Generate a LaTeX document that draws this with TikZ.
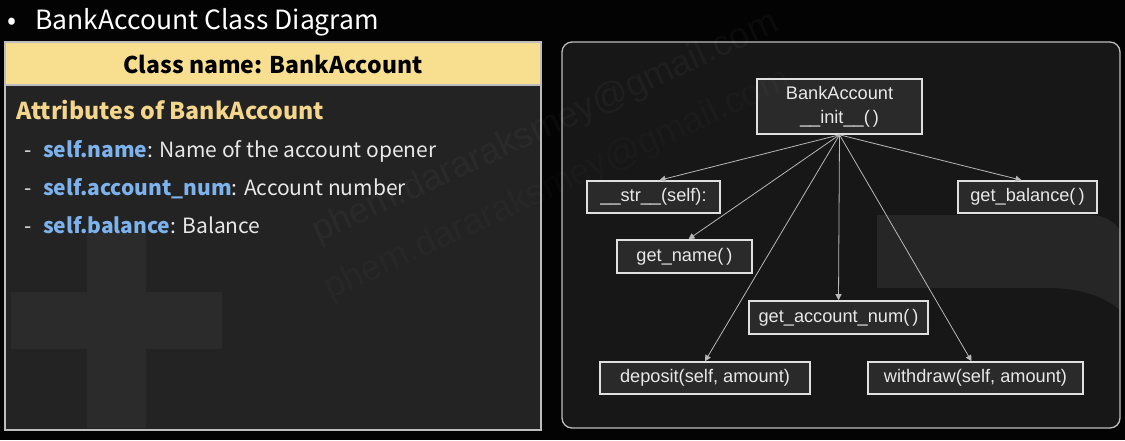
\documentclass[tikz,border=0pt]{standalone}
\usepackage{fontspec}
\newfontfamily\notosans{Noto Sans CJK KR}
\newfontfamily\arialf{Liberation Sans}
\usetikzlibrary{arrows.meta,calc}
\definecolor{bgblack}{HTML}{030303}
\definecolor{headyellow}{HTML}{F8DF90}
\definecolor{bodygray}{HTML}{232323}
\definecolor{crossgray}{HTML}{2B2B2B}
\definecolor{attryellow}{HTML}{F3D58B}
\definecolor{attrblue}{HTML}{7DB2EC}
\definecolor{txtwhite}{HTML}{E8E8E8}
\definecolor{panelborder}{HTML}{BDBDBD}
\definecolor{rpanel}{HTML}{171717}
\definecolor{bshape}{HTML}{262626}
\definecolor{boxfill}{HTML}{2A2A2A}
\definecolor{boxborder}{HTML}{E0E0E0}
\definecolor{edgegray}{HTML}{B8B8B8}
\tikzset{
  leftline/.style={anchor=base west, text=txtwhite, inner sep=0pt, font=\notosans\fontsize{21}{25}\selectfont},
  method/.style={draw=boxborder, line width=1.6pt, fill=boxfill, text=txtwhite, inner sep=0pt,
    font=\arialf\fontsize{18.2}{22}\selectfont, align=center},
  callarrow/.style={draw=edgegray, line width=0.8pt, -{Triangle[length=6pt,width=6pt]}},
  wmark/.style={text=white, opacity=0.035, font=\arialf\fontsize{36}{40}\selectfont, rotate=24.7, inner sep=0pt}
}
\begin{document}
\begin{tikzpicture}[x=1pt,y=-1pt]
\useasboundingbox (0,0) rectangle (1125,440);
\fill[bgblack] (0,0) rectangle (1125,440);

% title
\node[anchor=base west, text=white, inner sep=0pt, font=\notosans\fontsize{26.5}{30}\selectfont] (bullet) at (7,29) {•};
\node[anchor=base west, text=white, inner sep=0pt, font=\notosans\fontsize{26.5}{30}\selectfont] (title) at (35,29) {BankAccount Class Diagram};

% left panel
\fill[bodygray] (5,42) rectangle (541,430);
\fill[crossgray] (87,233) rectangle (146,428);
\fill[crossgray] (11,292) rectangle (222,349);
\fill[headyellow] (5,42) rectangle (541,85);
\draw[panelborder, line width=1.2pt] (5,85) -- (541,85);
\draw[panelborder, line width=1.5pt] (5,42) rectangle (541,430);

\node[anchor=base, text=black, inner sep=0pt, font=\notosans\bfseries\fontsize{23}{27}\selectfont] (hdr) at (273,73) {Class name: BankAccount};
\node[anchor=base west, text=attryellow, inner sep=0pt, font=\notosans\bfseries\fontsize{23.2}{27}\selectfont] (attr) at (16,119) {Attributes of BankAccount};

\node[leftline] (d1) at (24,157) {-};
\node[leftline] (l1) at (43,157) {{\color{attrblue}\bfseries self.name}: Name of the account opener};
\node[leftline] (d2) at (24,195) {-};
\node[leftline] (l2) at (43,195) {{\color{attrblue}\bfseries self.account\_num}: Account number};
\node[leftline] (d3) at (24,233) {-};
\node[leftline] (l3) at (43,233) {{\color{attrblue}\bfseries self.balance}: Balance};

% right panel
\fill[rpanel, rounded corners=10pt] (562,42) rectangle (1120,428);
\begin{scope}
  \clip[rounded corners=10pt] (562,42) rectangle (1120,428);
  \fill[bshape] (877,215) -- (1090,215) .. controls (1105,215) and (1115,222) .. (1122,233)
     -- (1122,312) .. controls (1105,296) and (1080,288) .. (1047,288) -- (877,288) -- cycle;
\end{scope}
\draw[panelborder, line width=1.3pt, rounded corners=10pt] (562,42) rectangle (1120,428);

\node[method, minimum width=165pt, minimum height=55pt] (init) at (839.5,106.5) {BankAccount\\[2pt]\_\_init\_\_(\,)};
\node[method, minimum width=133pt, minimum height=32pt] (str) at (653.5,197) {\_\_str\_\_(self):};
\node[method, minimum width=139pt, minimum height=32pt] (bal) at (1027.5,197) {get\_balance(\,)};
\node[method, minimum width=135pt, minimum height=33pt] (name) at (684.5,256.5) {get\_name(\,)};
\node[method, minimum width=179pt, minimum height=33pt] (acct) at (838.5,317.5) {get\_account\_num(\,)};
\node[method, minimum width=210pt, minimum height=32pt] (dep) at (705,378) {deposit(self, amount)};
\node[method, minimum width=215pt, minimum height=32pt] (wd) at (975.5,378) {withdraw(self, amount)};

\draw[callarrow] (init.south) -- ($(str.north)+(6,0)$);
\draw[callarrow] (init.south) -- ($(bal.north)+(-6,0)$);
\draw[callarrow] (init.south) -- ($(name.north)+(4,0)$);
\draw[callarrow] (init.south) -- (acct.north);
\draw[callarrow] (init.south) -- (dep.north);
\draw[callarrow] (init.south) -- ($(wd.north)+(-4,0)$);

% watermark
\node[wmark, anchor=base west] (wm1) at (318,243) {phem.dararaksmey@gmail.com};
\node[wmark, anchor=base west, opacity=0.02] (wm2) at (330,300) {phem.dararaksmey@gmail.com};
\end{tikzpicture}
\end{document}
